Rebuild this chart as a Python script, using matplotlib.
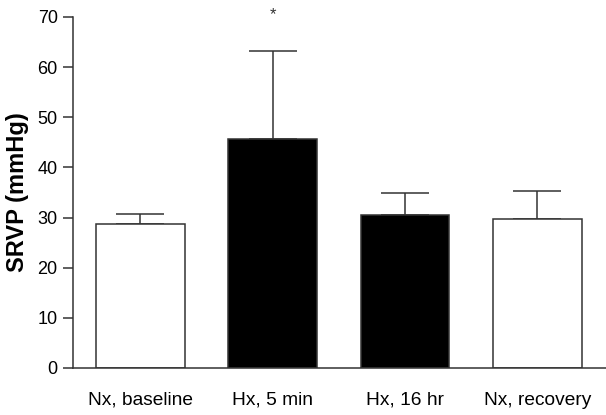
import matplotlib.pyplot as plt
import numpy as np

plt.rcParams['font.family'] = ['Liberation Sans', 'DejaVu Sans']

# Data
groups = ["Nx, baseline", "Hx, 5 min", "Hx, 16 hr", "Nx, recovery"]
srvp = [28.8, 45.6, 30.5, 29.8]
sem = [2.0, 17.6, 4.4, 5.5]
fills = ["white", "black", "black", "white"]
ax_color = "#333333"

fig = plt.figure(figsize=(6.06, 4.15), dpi=100)
ax = fig.add_axes([0.1205, 0.1133, 0.8795, 0.8458])

x = np.arange(len(groups))
ax.bar(x, srvp, width=0.67, color=fills, edgecolor=ax_color, linewidth=1.1, zorder=2)
ax.errorbar(x, srvp, yerr=[[0] * len(sem), sem], fmt='none', ecolor=ax_color,
            elinewidth=1.1, capsize=17, capthick=1.1, zorder=1)

# significance marker
ax.text(x[1], 69.0, "*", ha='center', va='bottom', fontsize=12, color=ax_color, clip_on=False)

ax.set_xlim(-0.51, 3.52)
ax.set_ylim(0, 70)
ax.set_yticks(range(0, 71, 10))
ax.set_xticks(x)
ax.set_xticklabels(groups, fontsize=13.8)
ax.tick_params(axis='y', labelsize=13, length=7, width=1.1, color=ax_color, pad=4)
ax.tick_params(axis='x', length=0, pad=17)
ax.set_ylabel("SRVP (mmHg)", fontsize=17, fontweight='bold', labelpad=6)

for side in ['top', 'right']:
    ax.spines[side].set_visible(False)
for side in ['left', 'bottom']:
    ax.spines[side].set_color(ax_color)
    ax.spines[side].set_linewidth(1.1)

fig.savefig("out.png", dpi=100)
